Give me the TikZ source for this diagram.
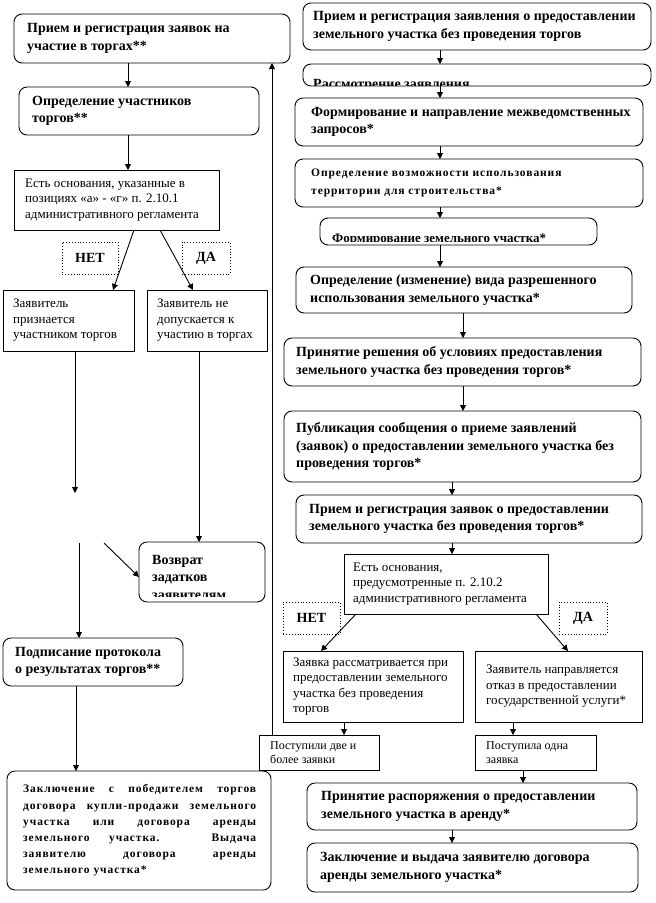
\documentclass[tikz,border=0pt]{standalone}
\usepackage{fontspec}
\setmainfont{Liberation Serif}
\newfontfamily\spacedbf[LetterSpace=8]{Liberation Serif}
\usetikzlibrary{arrows.meta}
\tikzset{
 base/.style={draw, line width=0.9pt, inner sep=0pt, outer sep=0pt},
 rbox/.style={base, rounded corners=8pt},
 sbox/.style={base},
 lbl/.style={draw, dotted, line width=0.9pt, inner sep=0pt, outer sep=0pt, font=\fontsize{14}{17}\selectfont\bfseries},
 tb/.style={inner sep=0pt, align=left, font=\fontsize{14}{17.5}\selectfont\bfseries},
 tr/.style={inner sep=0pt, align=left, font=\fontsize{13}{15.5}\selectfont},
 ts/.style={inner sep=0pt, align=left, font=\fontsize{12}{14}\selectfont},
 tsb/.style={inner sep=0pt, align=left, font=\spacedbf\bfseries\fontsize{11.5}{18}\selectfont},
 th/.style={inner sep=0pt, align=left, font=\spacedbf\bfseries\fontsize{11.5}{16.2}\selectfont},
 arr/.style={line width=0.9pt, -{Triangle[length=6pt,width=6pt]}},
}
\newcommand\bx[9]{%
 \pgfmathsetmacro\bw{#6-#4}\pgfmathsetmacro\bh{#7-#5}%
 \node[#2, anchor=north west, minimum width=\bw pt, minimum height=\bh pt] (#1) at (#4,#5) {};%
 \node[#3, anchor=west] (#1t) at ([xshift=#8pt]#1.west) {#9};}
\newcommand\hl[1]{\makebox[233pt][s]{#1}}
\begin{document}
\begin{tikzpicture}[x=1pt,y=-1pt]
\path[fill=white] (0,0) rectangle (656,903);
\useasboundingbox (0,0) rectangle (656,903);
% ---------- left column ----------
\bx{A}{rbox}{tb}{14}{14}{290}{63}{13}{Прием и регистрация заявок на\\участие в торгах**}
\bx{B}{rbox}{tb}{19}{87}{259}{135}{13}{Определение участников\\торгов**}
\bx{C}{sbox}{tr}{14}{170}{219}{230}{11}{Есть основания, указанные в\\позициях «а» - «г» п. 2.10.1\\административного регламента}
\node[lbl, anchor=north west, minimum width=56pt, minimum height=32pt] (no1) at (62,242) {НЕТ};
\node[lbl, anchor=north west, minimum width=48pt, minimum height=32pt] (da1) at (182,242) {ДА};
\bx{D}{sbox}{tr}{3}{290}{134}{351}{10}{Заявитель\\признается\\участником торгов}
\bx{E}{sbox}{tr}{147}{290}{267}{351}{10}{Заявитель не\\допускается к\\участию в торгах}
\node[rbox, anchor=north west, minimum width=126pt, minimum height=60pt] (G) at (139,542) {};
\begin{scope}
\clip (139,542) rectangle (265,596);
\node[tb, anchor=north west] (Gt) at (152,555) {Возврат\\задатков\\заявителям};
\end{scope}
\bx{F}{rbox}{tb}{3}{638}{183}{686}{12}{Подписание протокола\\о результатах торгов**}
\bx{H}{rbox}{th}{7}{771}{271}{890}{16}{\hl{Заключение с победителем торгов}\\\hl{договора купли-продажи земельного}\\\hl{участка или договора аренды}\\\hl{земельного участка. Выдача}\\\hl{заявителю договора аренды}\\земельного участка*}
% ---------- right column ----------
\bx{R1}{rbox}{tb}{303}{3}{651}{50}{10}{Прием и регистрация заявления о предоставлении\\земельного участка без проведения торгов}
\node[rbox, anchor=north west, minimum width=348pt, minimum height=22pt] (R2) at (303,64) {};
\begin{scope}
\clip (303,64) rectangle (651,85);
\node[tb, anchor=base west] (R2t) at (313,88) {Рассмотрение заявления};
\end{scope}
\bx{R3}{rbox}{tb}{295}{98}{643}{146}{16}{Формирование и направление межведомственных\\запросов*}
\bx{R4}{rbox}{tsb}{295}{159}{643}{207}{16}{Определение возможности использования\\территории для строительства*}
\node[rbox, anchor=north west, minimum width=277pt, minimum height=27pt] (R5) at (320,218) {};
\begin{scope}
\clip (320,218) rectangle (597,241);
\node[anchor=base west, inner sep=0pt, font=\fontsize{13}{15}\selectfont\bfseries] (R5t) at (332,242) {Формирование земельного участка*};
\end{scope}
\bx{R6}{rbox}{tb}{296}{267}{632}{313}{14}{Определение (изменение) вида разрешенного\\использования земельного участка*}
\bx{R7}{rbox}{tb}{284}{338}{641}{386}{12}{Принятие решения об условиях предоставления\\земельного участка без проведения торгов*}
\bx{R8}{rbox}{tb}{284}{411}{641}{482}{12}{Публикация сообщения о приеме заявлений\\(заявок) о предоставлении земельного участка без\\проведения торгов*}
\bx{R9}{rbox}{tb}{296}{495}{642}{543}{13}{Прием и регистрация заявок о предоставлении\\земельного участка без проведения торгов*}
\bx{D2}{sbox}{tr}{344}{554}{548}{614}{9}{Есть основания,\\предусмотренные п. 2.10.2\\административного регламента}
\node[lbl, anchor=north west, minimum width=57pt, minimum height=32pt] (no2) at (283,602) {НЕТ};
\node[lbl, anchor=north west, minimum width=48pt, minimum height=32pt] (da2) at (559,602) {ДА};
\bx{L1}{sbox}{tr}{283}{651}{463}{722}{10}{Заявка рассматривается при\\предоставлении земельного\\участка без проведения\\торгов}
\bx{L2}{sbox}{tr}{475}{651}{642}{722}{11}{Заявитель направляется\\отказ в предоставлении\\государственной услуги*}
\bx{P1}{sbox}{ts}{259}{735}{379}{770}{11}{Поступили две и\\более заявки}
\bx{P2}{sbox}{ts}{475}{735}{596}{770}{11}{Поступила одна\\заявка}
\bx{R10}{rbox}{tb}{307}{783}{637}{830}{14}{Принятие распоряжения о предоставлении\\земельного участка в аренду*}
\bx{R11}{rbox}{tb}{307}{843}{638}{892}{13}{Заключение и выдача заявителю договора\\аренды земельного участка*}
% ---------- connectors ----------
\coordinate (x128) at (128,0);
\draw[arr] (A.south -| x128) -- (B.north -| x128);
\draw[arr] (B.south -| x128) -- (C.north -| x128);
\coordinate (c1) at (134,0); \coordinate (d1) at (113,0);
\coordinate (c2) at (160,0); \coordinate (e1) at (193,0);
\draw[arr] (C.south -| c1) -- (D.north -| d1);
\draw[arr] (C.south -| c2) -- (E.north -| e1);
\coordinate (dd) at (75,493);
\draw[arr] (D.south -| dd) -- (dd);
\coordinate (ff) at (79,543);
\draw[arr] (ff) -- (F.north -| ff);
\coordinate (g0) at (104,543); \coordinate (g1) at (0,577);
\draw[arr] (g0) -- (G.west |- g1);
\coordinate (x199) at (199,0);
\draw[arr] (E.south -| x199) -- (G.north -| x199);
\coordinate (x76) at (76,0);
\draw[arr] (F.south -| x76) -- (H.north -| x76);
\coordinate (x440) at (440,0);
\draw[arr] (R1.south -| x440) -- (R2.north -| x440);
\draw[arr] (R2.south -| x440) -- (R3.north -| x440);
\draw[arr] (R3.south -| x440) -- (R4.north -| x440);
\draw[arr] (R4.south -| x440) -- (R5.north -| x440);
\draw[arr] (R5.south -| x440) -- (R6.north -| x440);
\coordinate (x463) at (463,0);
\draw[arr] (R6.south -| x463) -- (R7.north -| x463);
\draw[arr] (R7.south -| x463) -- (R8.north -| x463);
\coordinate (x452) at (452,0);
\draw[arr] (R8.south -| x452) -- (R9.north -| x452);
\draw[arr] (R9.south -| x452) -- (D2.north -| x452);
\coordinate (k1) at (356,0); \coordinate (k2) at (321,0);
\coordinate (k3) at (536,0); \coordinate (k4) at (568,0);
\draw[arr] (D2.south -| k1) -- (L1.north -| k2);
\draw[arr] (D2.south -| k3) -- (L2.north -| k4);
\coordinate (x344) at (344,0);
\draw[arr] (L1.south -| x344) -- (P1.north -| x344);
\coordinate (x513) at (513,0);
\draw[arr] (L2.south -| x513) -- (P2.north -| x513);
\coordinate (x523) at (523,0);
\draw[arr] (P2.south -| x523) -- (R10.north -| x523);
\draw[arr] (R10.south -| x452) -- (R11.north -| x452);
\coordinate (x272) at (272,0);
\draw[arr] (P1.north -| x272) -- (A.south -| x272);
\end{tikzpicture}
\end{document}
